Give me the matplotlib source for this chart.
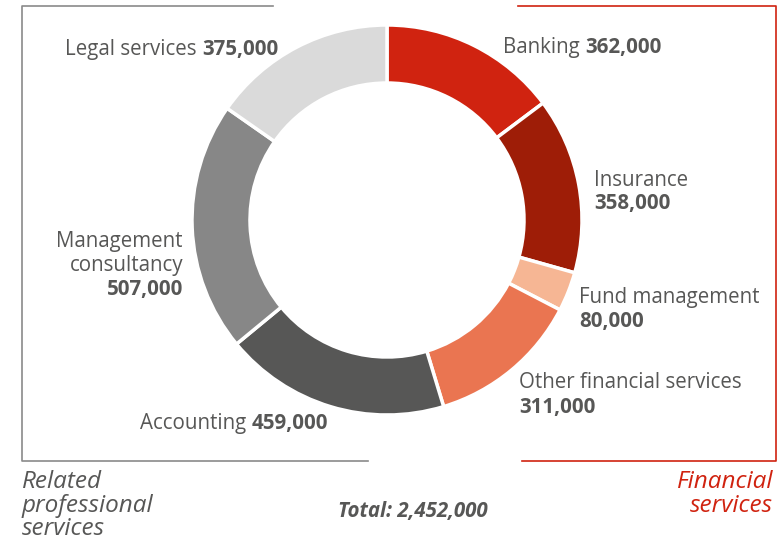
import matplotlib
matplotlib.use("Agg")
import matplotlib.pyplot as plt

# segments, clockwise from 12 o'clock
labels = ["Banking", "Insurance", "Fund management", "Other financial services",
          "Accounting", "Management consultancy", "Legal services"]
values = [362000, 358000, 80000, 311000, 459000, 507000, 375000]
colors = ["#d02310", "#9e1d07", "#f6b694", "#ea7551", "#575756", "#878787", "#dadada"]
total_text = "Total: 2,452,000"

TXT = "#575756"
RED = "#d02310"
FONT = "Open Sans"
FS = 14.8

W, H = 780, 543
fig = plt.figure(figsize=(W / 100, H / 100), dpi=100)
ax = fig.add_axes([0, 0, 1, 1])


def Y(y):
    # image pixel row -> data y
    return H - y


ax.pie(values, colors=colors, startangle=90, counterclock=False,
       center=(387, Y(220)), radius=195, frame=True,
       wedgeprops=dict(width=58, edgecolor="white", linewidth=2.5))
ax.set_xlim(0, W)
ax.set_ylim(0, H)
ax.set_aspect("auto")
ax.axis("off")

# brackets
ax.plot([273, 22, 22, 368], [Y(6), Y(6), Y(461), Y(461)], color="#8a8a8a", lw=1.2)
ax.plot([518, 776, 776, 522], [Y(6), Y(6), Y(461), Y(461)], color=RED, lw=1.2)


def label_inline(x, y, name, num):
    t = ax.text(x, Y(y), name + " ", fontsize=FS, family=FONT, color=TXT,
                va="center", ha="left")
    fig.canvas.draw()
    bb = t.get_window_extent().transformed(ax.transData.inverted())
    ax.text(bb.x1, Y(y), num, fontsize=FS, family=FONT, color=TXT,
            fontweight="bold", va="center", ha="left")


def label_block(x, y, lines, num, ha="left", step=24):
    for i, ln in enumerate(lines):
        ax.text(x, Y(y + i * step), ln, fontsize=FS, family=FONT, color=TXT,
                va="center", ha=ha)
    ax.text(x, Y(y + len(lines) * step), num, fontsize=FS, family=FONT, color=TXT,
            fontweight="bold", va="center", ha=ha)


def fmt(v):
    return f"{v:,}"


label_inline(65, 49, labels[6], fmt(values[6]))
label_inline(503, 48, labels[0], fmt(values[0]))
label_block(594, 180, [labels[1]], fmt(values[1]))
label_block(579, 298, [labels[2]], fmt(values[2]))
label_block(519, 383, [labels[3]], fmt(values[3]))
label_inline(140, 424, labels[4], fmt(values[4]))
label_block(183, 241, ["Management", "consultancy"], fmt(values[5]), ha="right")

for i, ln in enumerate(["Related", "professional", "services"]):
    ax.text(22, Y(482 + i * 23.5), ln, fontsize=17.5, family=FONT, style="italic",
            color=TXT, va="center", ha="left")
for i, ln in enumerate(["Financial", "services"]):
    ax.text(773, Y(482 + i * 23.5), ln, fontsize=17.5, family=FONT, style="italic",
            color=RED, va="center", ha="right")
ax.text(488, Y(512), total_text, fontsize=14.8, family=FONT, style="italic",
        fontweight="bold", color=TXT, va="center", ha="right")

fig.savefig("out.png", dpi=100)
